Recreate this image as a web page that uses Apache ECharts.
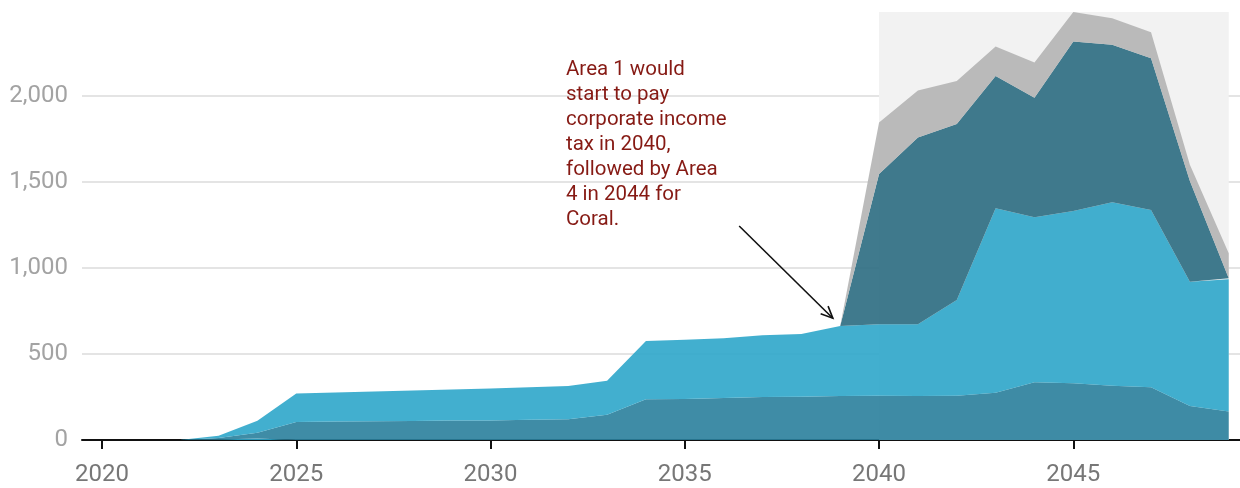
<!DOCTYPE html>
<html>
<head>
<meta charset="utf-8">
<script src="https://cdn.jsdelivr.net/npm/echarts@6/dist/echarts.min.js"></script>
<style>
  html, body { margin: 0; padding: 0; background: #fff; }
  #chart { width: 1240px; height: 488px; }
</style>
</head>
<body>
<div id="chart"></div>
<script>
const years = [2020, 2021, 2022, 2023, 2024, 2025, 2026, 2027, 2028, 2029,
  2030, 2031, 2032, 2033, 2034, 2035, 2036, 2037, 2038, 2039,
  2040, 2041, 2042, 2043, 2044, 2045, 2046, 2047, 2048, 2049];

// stacked from the bottom up
const sliver = [0, 0, 0, 3, 8, 0, 0, 0, 0, 0,
  0, 0, 0, 0, 0, 0, 0, 0, 0, 0,
  0, 0, 0, 0, 0, 0, 0, 0, 0, 0];
const areaDark = [0, 0, 0, 9, 34, 105, 107, 109, 111, 113,
  114, 117, 120, 147, 237, 238, 244, 250, 252, 256,
  257, 256, 257, 275, 335, 330, 316, 306, 198, 165];
const areaBlue = [0, 0, 0, 13, 70, 166, 169, 173, 177, 181,
  186, 189, 194, 197, 339, 345, 347, 359, 364, 407,
  416, 417, 557, 1072, 960, 1001, 1066, 1031, 722, 769];
const area1 = [0, 0, 0, 0, 0, 0, 0, 0, 0, 0,
  0, 0, 0, 0, 0, 0, 0, 0, 0, 0,
  874, 1085, 1023, 769, 695, 985, 915, 882, 585, 6];
const area4 = [0, 0, 0, 0, 0, 0, 0, 0, 0, 0,
  0, 0, 0, 0, 0, 0, 0, 0, 0, 0,
  298, 273, 250, 171, 204, 172, 154, 151, 95, 145];

const xTicks = [2020, 2025, 2030, 2035, 2040, 2045];
const shadeFrom = 2040;
const shadeTo = 2049;

const noteLines = [
  'Area 1 would',
  'start to pay',
  'corporate income',
  'tax in 2040,',
  'followed by Area',
  '4 in 2044 for',
  'Coral.'
];
const arrowFrom = [2036.4, 1244];
const arrowTo = [2038.81, 708];

// value first so the stack runs on y, not on the year
function pairs(vals) {
  return years.map((y, i) => [vals[i], y]);
}

function areaSeries(name, vals, color, extra) {
  return Object.assign({
    name: name,
    type: 'line',
    stack: 'total',
    data: pairs(vals),
    encode: { x: 1, y: 0 },
    symbol: 'none',
    lineStyle: { width: 0 },
    areaStyle: { color: color, opacity: 0.9 },
    emphasis: { disabled: true },
    z: 3
  }, extra || {});
}

const chart = echarts.init(document.getElementById('chart'), null, { renderer: 'canvas' });

chart.setOption({
  animation: false,
  textStyle: { fontFamily: 'Roboto, sans-serif' },
  grid: { left: 82, right: 0, top: 12, bottom: 48 },
  xAxis: {
    type: 'value',
    min: 2019.485,
    max: 2049.29,
    splitLine: { show: false },
    axisLine: { show: true, lineStyle: { color: '#111', width: 2 } },
    axisTick: { show: true, length: 9, customValues: xTicks, lineStyle: { color: '#111', width: 2 } },
    axisLabel: {
      customValues: xTicks,
      formatter: v => String(v),
      color: '#777',
      fontSize: 24,
      margin: 23
    }
  },
  yAxis: {
    type: 'value',
    min: 0,
    max: 'dataMax',
    interval: 500,
    axisLine: { show: false },
    axisTick: { show: false },
    splitLine: { showMaxLine: false, lineStyle: { color: '#e4e4e4', width: 2 } },
    axisLabel: { showMaxLabel: false, color: '#a3a3a3', fontSize: 24, margin: 14 }
  },
  series: [
    areaSeries('Sliver', sliver, '#2ea6ca', {
      markArea: {
        silent: true,
        itemStyle: { color: '#f2f2f2' },
        data: [[{ xAxis: shadeFrom }, { xAxis: shadeTo }]]
      }
    }),
    areaSeries('Area 2', areaDark, '#2a7f9c'),
    areaSeries('Area 3', areaBlue, '#2ea6ca'),
    areaSeries('Area 1', area1, '#2b6c81'),
    areaSeries('Area 4', area4, '#b4b4b4')
  ]
});

// annotation text + arrow, positioned through the chart's own scales
const p0 = chart.convertToPixel({ gridIndex: 0 }, arrowFrom);
const p1 = chart.convertToPixel({ gridIndex: 0 }, arrowTo);
const ang = Math.atan2(p1[1] - p0[1], p1[0] - p0[0]);
const head = 13, spread = 0.42;
const h1 = [p1[0] - head * Math.cos(ang - spread), p1[1] - head * Math.sin(ang - spread)];
const h2 = [p1[0] - head * Math.cos(ang + spread), p1[1] - head * Math.sin(ang + spread)];

chart.setOption({
  graphic: [
    {
      type: 'text',
      left: 566,
      top: 57,
      silent: true,
      style: {
        text: noteLines.join('\n'),
        fill: '#861a14',
        font: '20.5px Roboto, sans-serif',
        lineHeight: 25
      }
    },
    {
      type: 'line',
      silent: true,
      shape: { x1: p0[0], y1: p0[1], x2: p1[0], y2: p1[1] },
      style: { stroke: '#111', lineWidth: 1.6 }
    },
    {
      type: 'polyline',
      silent: true,
      shape: { points: [h1, p1, h2] },
      style: { stroke: '#111', lineWidth: 1.6, fill: null }
    }
  ]
});
</script>
</body>
</html>
